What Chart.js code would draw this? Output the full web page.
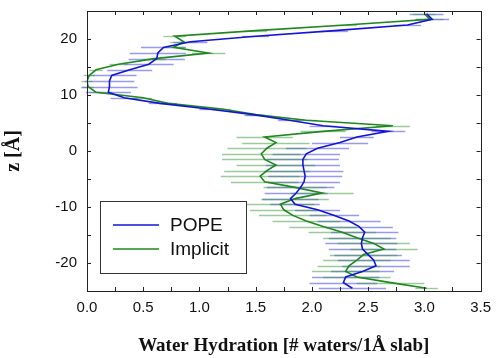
<!DOCTYPE html>
<html>
<head>
<meta charset="utf-8">
<script src="https://cdn.jsdelivr.net/npm/chart.js@4.4.0/dist/chart.umd.min.js"></script>
<style>
  html, body { margin: 0; padding: 0; background: #fff; }
  #wrap { width: 499px; height: 358px; }
</style>
</head>
<body>
<div id="wrap"><canvas id="chart" width="499" height="358"></canvas></div>
<script>
// depth bins (z, Å), top to bottom
const zBins = [24.5, 23.5, 22.5, 21.5, 20.5, 19.5, 18.5, 17.5, 16.5, 15.5,
  14.5, 13.5, 12.5, 11.5, 10.5, 9.5, 8.5, 7.5, 6.5, 5.5,
  4.5, 3.5, 2.5, 1.5, 0.5, -0.5, -1.5, -2.5, -3.5, -4.5,
  -5.5, -6.5, -7.5, -8.5, -9.5, -10.5, -11.5, -12.5, -13.5, -14.5,
  -15.5, -16.5, -17.5, -18.5, -19.5, -20.5, -21.5, -22.5, -23.5, -24.5];

// waters per 1Å slab
const popeWater = [3.02, 3.07, 2.85, 2.2, 1.5, 0.92, 0.68, 0.63, 0.62, 0.55,
  0.38, 0.22, 0.2, 0.2, 0.19, 0.33, 0.65, 1.08, 1.48, 1.8,
  2.1, 2.68, 2.4, 2.25, 2.05, 1.95, 1.92, 1.92, 1.93, 1.94,
  1.93, 1.9, 1.86, 1.81, 1.85, 2.05, 2.2, 2.33, 2.42, 2.47,
  2.45, 2.44, 2.45, 2.5, 2.55, 2.57, 2.45, 2.3, 2.28, 2.36];
const implicitWater = [3.0, 3.05, 2.3, 1.5, 0.78, 0.86, 0.77, 1.08, 0.6, 0.28,
  0.08, 0.02, 0.0, 0.01, 0.08, 0.5, 0.72, 1.2, 1.5, 1.95,
  2.72, 2.1, 1.58, 1.68, 1.6, 1.55, 1.58, 1.68, 1.6, 1.54,
  1.58, 1.85, 2.09, 1.85, 1.72, 1.75, 1.83, 1.95, 2.1, 2.27,
  2.4, 2.55, 2.64, 2.46, 2.4, 2.33, 2.3, 2.4, 2.7, 3.02];

// horizontal error (half width)
const popeErr = [0.15, 0.15, 0.12, 0.12, 0.12, 0.15, 0.2, 0.25, 0.25, 0.22,
  0.2, 0.22, 0.22, 0.25, 0.2, 0.12, 0.1, 0.08, 0.08, 0.1,
  0.12, 0.15, 0.15, 0.25, 0.28, 0.3, 0.32, 0.33, 0.35, 0.33,
  0.32, 0.3, 0.28, 0.25, 0.22, 0.2, 0.22, 0.28, 0.3, 0.3,
  0.3, 0.32, 0.3, 0.3, 0.32, 0.3, 0.28, 0.3, 0.3, 0.3];
const implicitErr = [0.1, 0.12, 0.1, 0.1, 0.1, 0.12, 0.1, 0.15, 0.1, 0.08,
  0.06, 0.05, 0.05, 0.05, 0.06, 0.08, 0.08, 0.08, 0.08, 0.1,
  0.15, 0.2, 0.25, 0.3, 0.35, 0.35, 0.38, 0.35, 0.38, 0.35,
  0.3, 0.28, 0.28, 0.3, 0.3, 0.3, 0.3, 0.3, 0.3, 0.3,
  0.3, 0.32, 0.3, 0.3, 0.3, 0.28, 0.3, 0.3, 0.3, 0.1];

const seriesNames = ["POPE", "Implicit"];
const xTicksLabelled = [0, 0.5, 1, 1.5, 2, 2.5, 3, 3.5];
const yTicksLabelled = [-20, -10, 0, 10, 20];

const toPoints = (vals) => vals.map((v, i) => ({ x: v, y: zBins[i] }));

// error bars, drawn under the lines
const errorBars = {
  id: "errorBars",
  beforeDatasetsDraw(chart) {
    const { ctx, scales: { x, y } } = chart;
    ctx.save();
    chart.data.datasets.forEach(ds => {
      ctx.strokeStyle = ds.errColor;
      ctx.lineWidth = 1.3;
      ds.data.forEach((p, i) => {
        const e = ds.errors[i];
        const py = Math.round(y.getPixelForValue(p.y)) + 0.5;
        ctx.beginPath();
        ctx.moveTo(x.getPixelForValue(p.x - e), py);
        ctx.lineTo(x.getPixelForValue(p.x + e), py);
        ctx.stroke();
      });
    });
    ctx.restore();
  }
};

// box frame + inward ticks on all four sides
const frameTicks = {
  id: "frameTicks",
  afterDraw(chart) {
    const { ctx, chartArea: a, scales: { x, y } } = chart;
    const len = 4;
    ctx.save();
    ctx.strokeStyle = "#222";
    ctx.lineWidth = 1;
    ctx.strokeRect(Math.round(a.left) + 0.5, Math.round(a.top) + 0.5,
      Math.round(a.right - a.left), Math.round(a.bottom - a.top));
    ctx.beginPath();
    x.ticks.forEach(t => {
      const px = Math.round(x.getPixelForValue(t.value)) + 0.5;
      ctx.moveTo(px, a.bottom); ctx.lineTo(px, a.bottom - len);
      ctx.moveTo(px, a.top); ctx.lineTo(px, a.top + len);
    });
    y.ticks.forEach(t => {
      const py = Math.round(y.getPixelForValue(t.value)) + 0.5;
      ctx.moveTo(a.left, py); ctx.lineTo(a.left + len, py);
      ctx.moveTo(a.right, py); ctx.lineTo(a.right - len, py);
    });
    ctx.stroke();
    ctx.restore();
  }
};

// boxed legend inside the plot, lower left
const boxLegend = {
  id: "boxLegend",
  afterDraw(chart) {
    const { ctx, chartArea: a } = chart;
    const bx = a.left + 13, by = a.top + 190, bw = 146, bh = 72;
    ctx.save();
    ctx.fillStyle = "#fff";
    ctx.fillRect(bx, by, bw, bh);
    ctx.strokeStyle = "#333";
    ctx.lineWidth = 1;
    ctx.strokeRect(bx + 0.5, by + 0.5, bw, bh);
    ctx.font = "19px 'Liberation Sans', Arial, sans-serif";
    ctx.textBaseline = "middle";
    chart.data.datasets.forEach((ds, i) => {
      const ly = by + 24 + i * 24;
      ctx.strokeStyle = ds.borderColor;
      ctx.lineWidth = 1.6;
      ctx.beginPath();
      ctx.moveTo(bx + 13, ly); ctx.lineTo(bx + 59, ly);
      ctx.stroke();
      ctx.fillStyle = "#111";
      ctx.fillText(ds.label, bx + 70, ly + 1);
    });
    ctx.restore();
  }
};

new Chart(document.getElementById("chart"), {
  type: "scatter",
  data: {
    datasets: [
      {
        label: seriesNames[0],
        data: toPoints(popeWater),
        errors: popeErr,
        borderColor: "#1414d6",
        errColor: "rgba(70, 70, 225, 0.55)",
        showLine: true,
        borderWidth: 1.6,
        pointRadius: 0,
        tension: 0
      },
      {
        label: seriesNames[1],
        data: toPoints(implicitWater),
        errors: implicitErr,
        borderColor: "#1f881f",
        errColor: "rgba(60, 150, 60, 0.5)",
        showLine: true,
        borderWidth: 1.6,
        pointRadius: 0,
        tension: 0
      }
    ]
  },
  options: {
    responsive: false,
    animation: false,
    layout: { padding: { left: 0, top: 11, right: 14, bottom: 0 } },
    plugins: {
      legend: { display: false },
      tooltip: { enabled: false }
    },
    scales: {
      x: {
        type: "linear",
        min: 0,
        max: 3.5,
        afterFit: s => { s.height = 67; },
        afterBuildTicks: s => {
          s.ticks = [];
          for (let v = 0; v <= 3.5001; v += 0.25) s.ticks.push({ value: Math.round(v * 100) / 100 });
        },
        grid: { display: false, drawTicks: false },
        border: { display: false },
        ticks: {
          autoSkip: false,
          maxRotation: 0,
          padding: 8,
          color: "#111",
          font: { family: "'Liberation Sans', Arial, sans-serif", size: 15 },
          callback: v => xTicksLabelled.includes(v) ? v.toFixed(1) : ""
        },
        title: {
          display: true,
          text: "Water Hydration [# waters/1Å slab]",
          color: "#111",
          font: { family: "'Liberation Serif', 'Times New Roman', serif", size: 19, weight: "bold" },
          padding: { top: 0, bottom: 1 }
        }
      },
      y: {
        type: "linear",
        min: -25,
        max: 25,
        afterFit: s => { s.width = 87; s.paddingTop = 0; s.paddingBottom = 0; },
        grid: { display: false, drawTicks: false },
        border: { display: false },
        ticks: {
          stepSize: 5,
          autoSkip: false,
          padding: 10,
          color: "#111",
          font: { family: "'Liberation Sans', Arial, sans-serif", size: 15 },
          callback: v => yTicksLabelled.includes(v) ? String(v) : ""
        },
        title: {
          display: true,
          text: "z [Å]",
          color: "#111",
          font: { family: "'Liberation Serif', 'Times New Roman', serif", size: 20, weight: "bold" },
          padding: { top: 2, bottom: 0 }
        }
      }
    }
  },
  plugins: [errorBars, frameTicks, boxLegend]
});
</script>
</body>
</html>
